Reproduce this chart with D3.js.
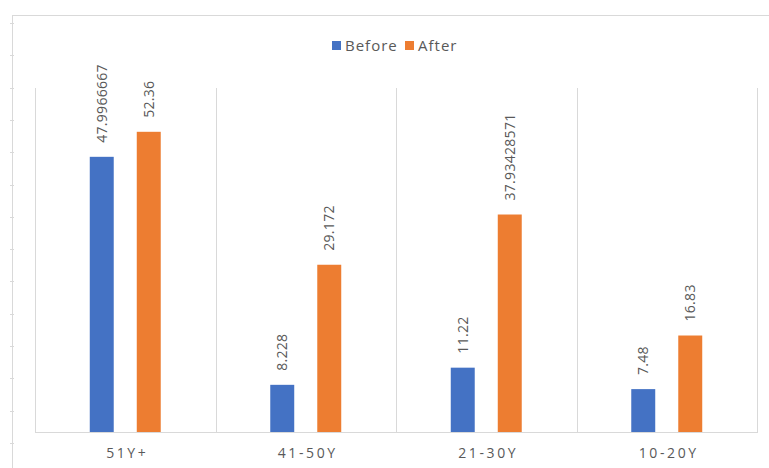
<!DOCTYPE html>
<html>
  <head>
    <meta charset="utf-8">
    <title>Before / After by age group</title>
    <script src="https://d3js.org/d3.v7.min.js"></script>
    <style>
      body { margin: 0; background: #fff; }
      text { font-family: "Open Sans", "Noto Sans", sans-serif; fill: #595959; }
      .frame, .grid { stroke: #d9d9d9; stroke-width: 1; fill: none; shape-rendering: crispEdges; }
      .label { font-size: 14px; letter-spacing: 0.3px; }
      .cat { font-size: 14px; letter-spacing: 2.6px; }
      .legend text { font-size: 15px; letter-spacing: 1px; }
    </style>
  </head>
  <body>
    <svg id="chart" width="769" height="468"></svg>
    <script>
      // chart data
      var categories = ["51Y+", "41-50Y", "21-30Y", "10-20Y"];
      var series = ["Before", "After"];
      var before = [47.9966667, 8.228, 11.22, 7.48];
      var after = [52.36, 29.172, 37.93428571, 16.83];
      var yDomain = [0, 60];
      var colours = d3.scaleOrdinal()
        .domain(series)
        .range(["#4472c4", "#ed7d31"]);

      var svg = d3.select("#chart");
      var width = 769, height = 468;
      var plot = { left: 35, right: 757, top: 88, bottom: 432 };

      // outer sheet frame with faint row markers
      svg.append("path")
        .classed("frame", true)
        .attr("d", "M12.5," + height + "V15.5H" + width);
      svg.selectAll(".rowTick")
        .data(d3.range(14))
        .enter().append("line")
          .classed("frame", true)
          .attr("x1", 10).attr("x2", 14)
          .attr("y1", function(d) { return Math.round(23 + d * 32.3) + 0.5; })
          .attr("y2", function(d) { return Math.round(23 + d * 32.3) + 0.5; });

      // scales
      var x0 = d3.scaleBand()
        .domain(categories)
        .range([plot.left, plot.right]);
      var x1 = d3.scaleBand()
        .domain(series)
        .range([0, x0.bandwidth()])
        .paddingInner(0.49)
        .paddingOuter(1.165);
      var y = d3.scaleLinear()
        .domain(yDomain)
        .range([plot.bottom, plot.top]);

      // plot area grid: category dividers and baseline
      var edges = categories.map(function(c) { return x0(c); }).concat([plot.right]);
      svg.selectAll(".vgrid")
        .data(edges)
        .enter().append("line")
          .classed("grid", true)
          .attr("x1", function(d) { return Math.round(d) + 0.5; })
          .attr("x2", function(d) { return Math.round(d) + 0.5; })
          .attr("y1", plot.top)
          .attr("y2", plot.bottom);
      svg.append("line")
        .classed("grid", true)
        .attr("x1", plot.left).attr("x2", plot.right + 1)
        .attr("y1", plot.bottom + 0.5).attr("y2", plot.bottom + 0.5);

      // bars
      var rows = categories.map(function(c, i) {
        return { cat: c, values: [ { s: "Before", v: before[i] }, { s: "After", v: after[i] } ] };
      });
      var groups = svg.selectAll(".group")
        .data(rows)
        .enter().append("g")
          .attr("transform", function(d) { return "translate(" + x0(d.cat) + ",0)"; });
      groups.selectAll("rect")
        .data(function(d) { return d.values; })
        .enter().append("rect")
          .attr("x", function(d) { return x1(d.s); })
          .attr("width", x1.bandwidth())
          .attr("y", function(d) { return y(d.v); })
          .attr("height", function(d) { return plot.bottom - y(d.v); })
          .style("fill", function(d) { return colours(d.s); });
      // rotated value labels
      groups.selectAll(".label")
        .data(function(d) { return d.values; })
        .enter().append("text")
          .classed("label", true)
          .attr("transform", function(d) {
            return "translate(" + (x1(d.s) + x1.bandwidth() / 2) + "," + (y(d.v) - 14) + ") rotate(-90)";
          })
          .attr("dy", "0.35em")
          .text(function(d) { return String(d.v); });

      // category labels
      svg.selectAll(".cat")
        .data(categories)
        .enter().append("text")
          .classed("cat", true)
          .attr("x", function(d) { return x0(d) + x0.bandwidth() / 2 + 2; })
          .attr("y", 458)
          .attr("text-anchor", "middle")
          .text(function(d) { return d; });

      // legend
      var legend = svg.append("g")
        .classed("legend", true)
        .attr("transform", "translate(332,0)");
      var legendX = [0, 73];
      var items = legend.selectAll(".item")
        .data(series)
        .enter().append("g")
          .attr("transform", function(d, i) { return "translate(" + legendX[i] + ",0)"; });
      items.append("rect")
        .attr("y", 41)
        .attr("width", 9)
        .attr("height", 9)
        .style("fill", function(d) { return colours(d); });
      items.append("text")
        .attr("x", 13)
        .attr("y", 50.5)
        .text(function(d) { return d; });
    </script>
  </body>
</html>
